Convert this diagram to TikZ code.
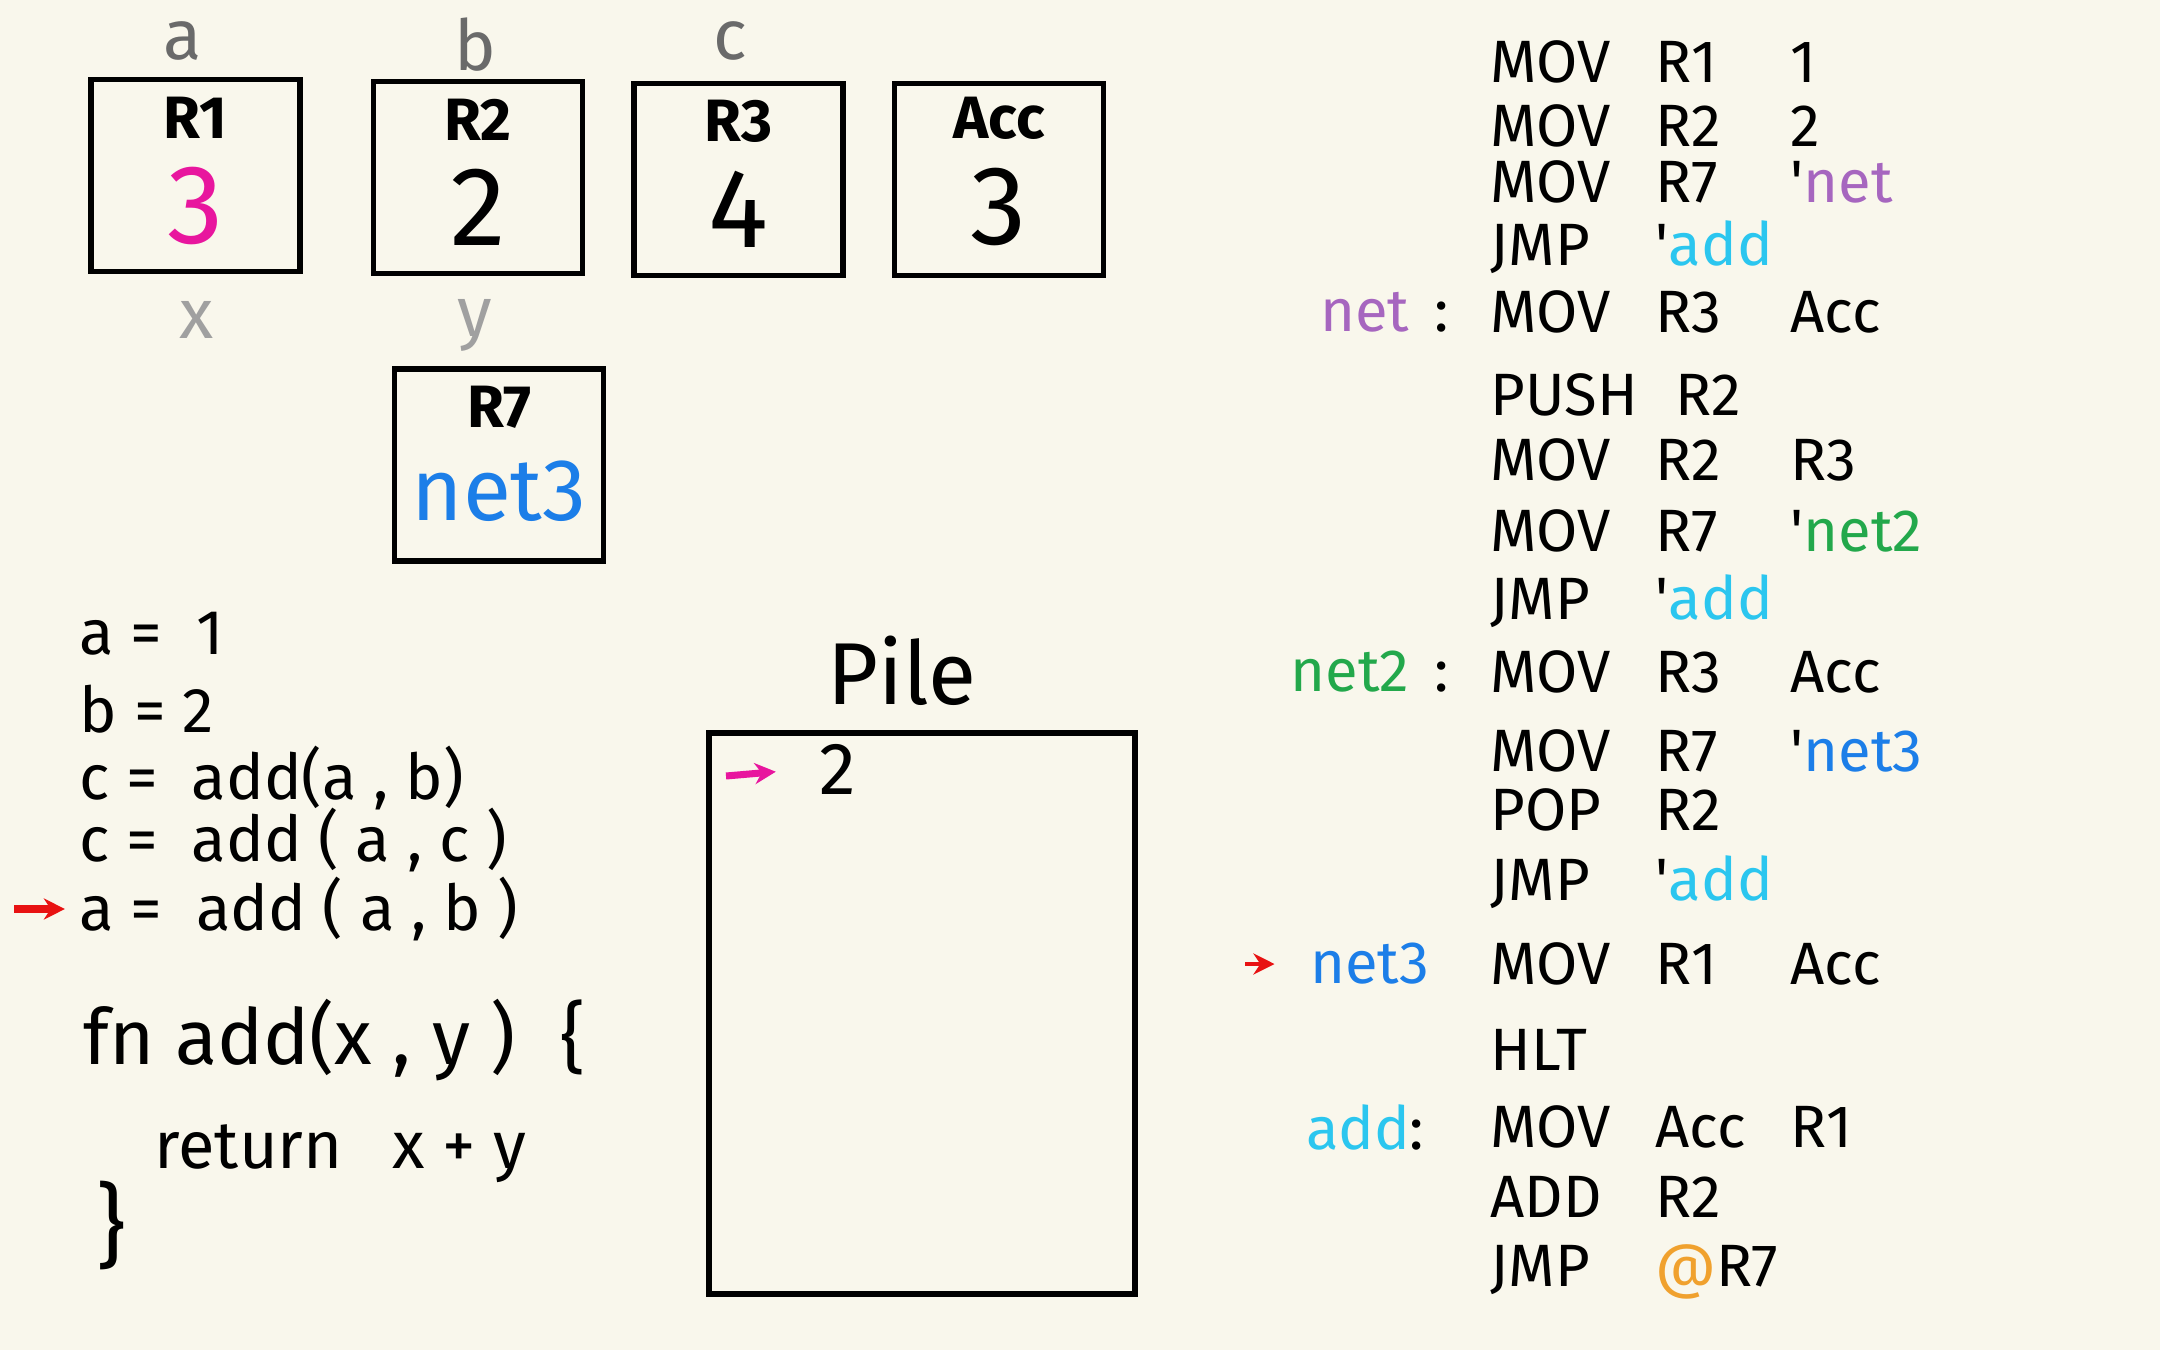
\documentclass[tikz,border=0pt]{standalone}
\usepackage{fontspec}
\setmainfont{Fira Sans}
\usetikzlibrary{positioning, arrows.meta}

\definecolor{paper}{HTML}{F9F7EC}
\definecolor{hotpink}{HTML}{E8169E}
\definecolor{netblue}{HTML}{1C7EE8}
\definecolor{netpurple}{HTML}{A666BF}
\definecolor{netgreen}{HTML}{23A84B}
\definecolor{addcyan}{HTML}{2BC6EF}
\definecolor{atorange}{HTML}{F0A12E}
\definecolor{pcred}{HTML}{E81212}
\definecolor{vargray}{HTML}{6A6A6A}
\definecolor{pargray}{HTML}{A0A0A0}

% one line of assembly: op, first operand, second operand
\newcommand{\asm}[3]{\makebox[1.65cm][l]{#1}\makebox[1.35cm][l]{#2}#3}
\newcommand{\lref}[2]{\textquotesingle\textcolor{#1}{#2}}

\tikzset{
  reg/.style={draw=black, line width=1.6pt, minimum width=2.09cm, minimum height=1.92cm, inner sep=0pt},
  regname/.style={font=\fontsize{17}{20}\selectfont\bfseries},
  regval/.style={font=\fontsize{32}{36}\selectfont},
  var/.style={font=\fontsize{20}{24}\selectfont},
  code/.style={anchor=west, inner sep=0pt, font=\fontsize{18}{22}\selectfont},
  asmline/.style={anchor=west, inner sep=0pt, font=\fontsize{17}{20}\selectfont},
  lbl/.style={anchor=east, inner sep=0pt, font=\fontsize{17}{20}\selectfont},
  pc/.style={-{Stealth[length=6pt, width=6pt]}, line width=1.6pt},
}

\begin{document}
\begin{tikzpicture}
\useasboundingbox (0,0) rectangle (21.6,13.5);
\fill [paper] (0,0) rectangle (21.6,13.5);

% registers
\node [reg] (r1) at (1.955,11.745) {};
\node [reg] (r2) at (4.78,11.725) {};
\node [reg] (r3) at (7.385,11.705) {};
\node [reg] (acc) at (9.99,11.705) {};
\node [reg] (r7) at (4.99,8.85) {};

\node [regname] (r1name) at ([yshift=-0.41cm]r1.north) {R1};
\node [regval, text=hotpink] (r1val) at ([yshift=-1.29cm]r1.north) {3};
\node [regname] (r2name) at ([yshift=-0.41cm]r2.north) {R2};
\node [regval] (r2val) at ([yshift=-1.29cm]r2.north) {2};
\node [regname] (r3name) at ([yshift=-0.41cm]r3.north) {R3};
\node [regval] (r3val) at ([yshift=-1.29cm]r3.north) {4};
\node [regname] (accname) at ([yshift=-0.38cm]acc.north) {Acc};
\node [regval] (accval) at ([yshift=-1.26cm]acc.north) {3};
\node [regname] (r7name) at ([yshift=-0.41cm]r7.north) {R7};
\node [regval, font=\fontsize{25}{30}\selectfont, text=netblue] (r7val) at ([yshift=-1.25cm]r7.north) {net3};

% variable names
\node [var, text=vargray] (vara) at (1.83,13.09) {a};
\node [var, text=vargray] (varb) at (4.75,13.05) {b};
\node [var, text=vargray] (varc) at (7.30,13.09) {c};
\node [var, text=pargray] (parx) at (1.97,10.30) {x};
\node [var, text=pargray] (pary) at (4.75,10.25) {y};

% source program
\node [code] (src1) at (0.79,7.16) {a = \ 1};
\node [code] (src2) at (0.79,6.41) {b = 2};
\node [code] (src3) at (0.79,5.72) {c = \ add(a , b)};
\node [code] (src4) at (0.79,5.10) {c = \ add ( a , c )};
\node [code] (src5) at (0.79,4.41) {a = \ add ( a , b )};
\node [code, font=\fontsize{22}{26}\selectfont] (fn) at (0.83,3.10) {fn add(x , y )\hspace{0.45cm}\{};
\node [code, font=\fontsize{19}{22}\selectfont] (ret) at (1.54,1.96) {return\hspace{0.5cm}x + y};
\node [code, font=\fontsize{26}{30}\selectfont] (fnend) at (0.96,1.24) {\}};
\coordinate (srcpc) at (0.14,4.41);
\draw [pc, pcred, line width=2.2pt, shorten >=4pt] (srcpc) -- (src5.west);

% stack
\node [draw=black, line width=1.6pt, minimum width=4.26cm, minimum height=5.61cm, inner sep=0pt] (pile) at (9.22,3.365) {};
\node [font=\fontsize{25}{30}\selectfont, inner sep=0pt] (piletitle) [above=0.24cm of pile.north, xshift=-0.2cm] {Pile};
\node [font=\fontsize{21}{24}\selectfont] (top2) at (8.38,5.81) {2};
\coordinate (sp) at (7.26,5.74);
\draw [pc, hotpink, line width=2pt, shorten >=9pt] (sp) -- (top2.west);

% assembly
\node [asmline] (asm1) at (14.9,12.88) {\asm{MOV}{R1}{1}};
\node [asmline] (asm2) at (14.9,12.24) {\asm{MOV}{R2}{2}};
\node [asmline] (asm3) at (14.9,11.68) {\asm{MOV}{R7}{\lref{netpurple}{net}}};
\node [asmline] (asm4) at (14.9,11.03) {\asm{JMP}{\lref{addcyan}{add}}{}};
\node [asmline] (asm5) at (14.9,10.38) {\asm{MOV}{R3}{Acc}};
\node [asmline] (asm6) at (14.9,9.55) {\asm{PUSH}{\hspace{0.2cm}R2}{}};
\node [asmline] (asm7) at (14.9,8.90) {\asm{MOV}{R2}{R3}};
\node [asmline] (asm8) at (14.9,8.19) {\asm{MOV}{R7}{\lref{netgreen}{net2}}};
\node [asmline] (asm9) at (14.9,7.49) {\asm{JMP}{\lref{addcyan}{add}}{}};
\node [asmline] (asm10) at (14.9,6.78) {\asm{MOV}{R3}{Acc}};
\node [asmline] (asm11) at (14.9,5.99) {\asm{MOV}{R7}{\lref{netblue}{net3}}};
\node [asmline] (asm12) at (14.9,5.40) {\asm{POP}{R2}{}};
\node [asmline] (asm13) at (14.9,4.68) {\asm{JMP}{\lref{addcyan}{add}}{}};
\node [asmline] (asm14) at (14.9,3.86) {\asm{MOV}{R1}{Acc}};
\node [asmline] (asm15) at (14.9,3.00) {HLT};
\node [asmline] (asm16) at (14.9,2.23) {\asm{MOV}{Acc}{R1}};
\node [asmline] (asm17) at (14.9,1.53) {\asm{ADD}{R2}{}};
\node [asmline] (asm18) at (14.9,0.78) {\asm{JMP}{\textcolor{atorange}{@}R7}{}};

\node [lbl] (lblnet) [left=0.4cm of asm5.west] {\textcolor{netpurple}{net} \,:};
\node [lbl] (lblnet2) [left=0.4cm of asm10.west] {\textcolor{netgreen}{net2} \,:};
\node [lbl] (lblnet3) [left=0.6cm of asm14.west] {\textcolor{netblue}{net3}};
\node [lbl] (lbladd) [left=0.65cm of asm16.west] {\textcolor{addcyan}{add}:};
\coordinate (ip) at (12.45,3.86);
\draw [pc, pcred, line width=1.4pt, shorten >=10pt] (ip) -- (lblnet3.west);
\end{tikzpicture}
\end{document}
